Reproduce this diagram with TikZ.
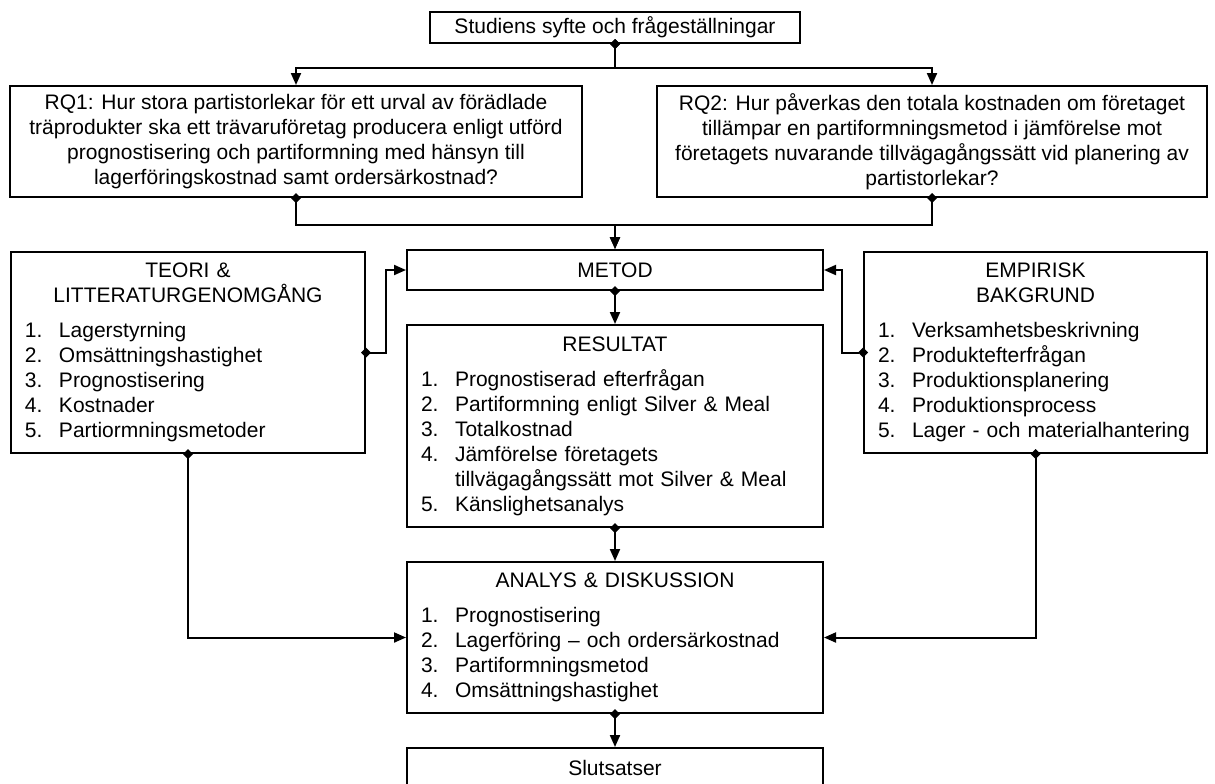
\documentclass[tikz,border=0pt]{standalone}
\usepackage{fontspec}
\setmainfont{Liberation Sans}
\usetikzlibrary{arrows.meta, positioning}

\newcommand{\itm}[2]{\makebox[17pt][l]{#1.}#2}

\begin{document}
\begin{tikzpicture}[
        x=0.5pt, y=-0.5pt,
        font=\fontsize{10.5}{12.5}\selectfont,
        title box/.style={draw, line width=1pt, align=center, inner sep=0pt},
        list box/.style={draw, line width=1pt, inner xsep=7pt, inner ysep=0pt},
        link/.style={{Diamond[length=5pt,width=5pt]}-{Triangle[length=6pt,width=5pt]}, line width=1pt, shorten <=-2.5pt}
    ]
    \useasboundingbox (0,0) rectangle (1215,783);

    % Aim and research questions
    \node[title box, minimum width=185pt, minimum height=15.5pt] (syfte) at (615,27.5) {Studiens syfte och frågeställningar};
    \node[title box, minimum width=286pt, minimum height=55.5pt] (rq1) at (296,141.5) {RQ1: Hur stora partistorlekar för ett urval av förädlade\\träprodukter ska ett trävaruföretag producera enligt utförd\\prognostisering och partiformning med hänsyn till\\lagerföringskostnad samt ordersärkostnad?};
    \node[title box, minimum width=275pt, minimum height=55.5pt] (rq2) at (932,141.5) {RQ2: Hur påverkas den totala kostnaden om företaget\\tillämpar en partiformningsmetod i jämförelse mot\\företagets nuvarande tillvägagångssätt vid planering av\\partistorlekar?};

    % Middle column
    \node[title box, minimum width=208pt, minimum height=20pt] (metod) at (615,270) {METOD};
    \node[list box, text width=194pt, minimum height=101pt] (resultat) at (615,426) {\centering RESULTAT\par\vspace{5pt}\raggedright
        \itm{1}{Prognostiserad efterfrågan}\\
        \itm{2}{Partiformning enligt Silver \& Meal}\\
        \itm{3}{Totalkostnad}\\
        \itm{4}{Jämförelse företagets}\\\hspace*{17pt}tillvägagångssätt mot Silver \& Meal\\
        \itm{5}{Känslighetsanalys}};
    \node[list box, text width=194pt, minimum height=75.5pt] (analys) at (615,637.5) {\centering ANALYS \& DISKUSSION\par\vspace{5pt}\raggedright
        \itm{1}{Prognostisering}\\
        \itm{2}{Lagerföring -- och ordersärkostnad}\\
        \itm{3}{Partiformningsmetod}\\
        \itm{4}{Omsättningshastighet}};
    \node[title box, minimum width=208pt, minimum height=20pt] (slutsatser) at (615,768) {Slutsatser};

    % Side boxes
    \node[list box, text width=163pt, minimum height=100.5pt] (teori) at (188,352.5) {\centering TEORI \&\\LITTERATURGENOMGÅNG\par\vspace{5pt}\raggedright
        \itm{1}{Lagerstyrning}\\
        \itm{2}{Omsättningshastighet}\\
        \itm{3}{Prognostisering}\\
        \itm{4}{Kostnader}\\
        \itm{5}{Partiormningsmetoder}};
    \node[list box, text width=157.5pt, minimum height=100.5pt] (empirisk) at (1035.5,352.5) {\centering EMPIRISK\\BAKGRUND\par\vspace{5pt}\raggedright
        \itm{1}{Verksamhetsbeskrivning}\\
        \itm{2}{Produktefterfrågan}\\
        \itm{3}{Produktionsplanering}\\
        \itm{4}{Produktionsprocess}\\
        \itm{5}{Lager - och materialhantering}};

    % Connections
    \coordinate (split) at (615,68);
    \coordinate (join) at (615,225);
    \draw[link] (syfte.south) -- (split) -| (rq1.north);
    \draw[link] (syfte.south) -- (split) -| (rq2.north);
    \draw[link] (rq1.south) |- (join) -- (metod.north);
    \draw[link] (rq2.south) |- (join) -- (metod.north);
    \draw[link] (teori.east) -- ++(20,0) |- (metod.west);
    \draw[link] (empirisk.west) -- ++(-21,0) |- (metod.east);
    \draw[link] (metod.south) -- (resultat.north);
    \draw[link] (resultat.south) -- (analys.north);
    \draw[link] (teori.south) |- (analys.west);
    \draw[link] (empirisk.south) |- (analys.east);
    \draw[link] (analys.south) -- (slutsatser.north);

\end{tikzpicture}
\end{document}
